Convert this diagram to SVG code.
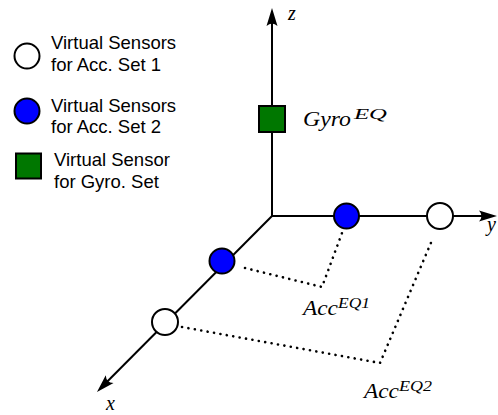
<svg xmlns="http://www.w3.org/2000/svg" width="498" height="415" viewBox="0 0 498 415">
<style>
.axis{stroke:#000;stroke-width:2;fill:none}
.dot{stroke:#000;stroke-width:2.6;fill:none;stroke-dasharray:0.1 6.4;stroke-linecap:round}
.wc{fill:#fff;stroke:#000;stroke-width:2}
.bc{fill:#0000ff;stroke:#000;stroke-width:2}
.gs{fill:#007700;stroke:#000;stroke-width:2}
.leg{font-family:"Liberation Sans",Arial,sans-serif;font-size:18.5px;fill:#000}
.math{font-family:"Liberation Serif","Times New Roman",serif;font-style:italic;font-size:20px;fill:#000}
.sup{font-size:14px}
</style>
<defs>
<marker id="arr" viewBox="-11 -7 20 14" refX="0" refY="0" markerWidth="20" markerHeight="14" markerUnits="userSpaceOnUse" orient="auto">
<path d="M8,0 L-10,-5.5 Q-5,0 -10,5.5 Z" fill="#000"/>
</marker>
</defs>
<g id="connectors">
<line class="axis" x1="272" y1="217" x2="272" y2="16" marker-end="url(#arr)"/>
<line class="axis" x1="271" y1="216" x2="489" y2="216" marker-end="url(#arr)"/>
<line class="axis" x1="272" y1="216" x2="102.6" y2="386.3" marker-end="url(#arr)"/>
<polyline class="dot" points="245,268 322,287 342,233"/>
<polyline class="dot" points="182,327 380,363 433,238"/>
</g>
<g id="legend-set1"><circle class="wc" cx="27" cy="56" r="12.5"/><text class="leg" x="51" y="49">Virtual Sensors</text><text class="leg" x="51" y="71">for Acc. Set 1</text></g>
<g id="legend-set2"><circle class="bc" cx="27" cy="111" r="12.5"/><text class="leg" x="51" y="112">Virtual Sensors</text><text class="leg" x="51" y="133">for Acc. Set 2</text></g>
<g id="legend-gyro"><rect class="gs" x="16" y="153.5" width="25" height="25"/><text class="leg" x="54" y="166">Virtual Sensor</text><text class="leg" x="54" y="188">for Gyro. Set</text></g>
<g id="label-z"><text class="math" x="288" y="20" font-size="19">z</text></g>
<g id="label-y"><text class="math" x="487" y="231" font-size="19">y</text></g>
<g id="label-x"><text class="math" x="106" y="410" font-size="19">x</text></g>
<g id="gyro-eq"><rect class="gs" x="259" y="106" width="26" height="26"/><text class="math" x="303" y="126" font-size="19" textLength="48" lengthAdjust="spacingAndGlyphs">Gyro</text><text class="math sup" x="354" y="119" textLength="33" lengthAdjust="spacingAndGlyphs">EQ</text></g>
<g id="acc2-y1"><circle class="bc" cx="346.5" cy="216" r="12.5"/></g>
<g id="acc1-y1"><circle class="wc" cx="440" cy="216" r="13"/></g>
<g id="acc2-x1"><circle class="bc" cx="222" cy="261" r="12.5"/></g>
<g id="acc1-x1"><circle class="wc" cx="165" cy="322" r="13"/></g>
<g id="acc-eq1"><text class="math" x="303" y="315" textLength="35" lengthAdjust="spacingAndGlyphs">Acc</text><text class="math sup" x="338" y="308" textLength="32" lengthAdjust="spacingAndGlyphs">EQ1</text></g>
<g id="acc-eq2"><text class="math" x="364" y="398" textLength="35" lengthAdjust="spacingAndGlyphs">Acc</text><text class="math sup" x="399" y="391" textLength="33" lengthAdjust="spacingAndGlyphs">EQ2</text></g>
</svg>
